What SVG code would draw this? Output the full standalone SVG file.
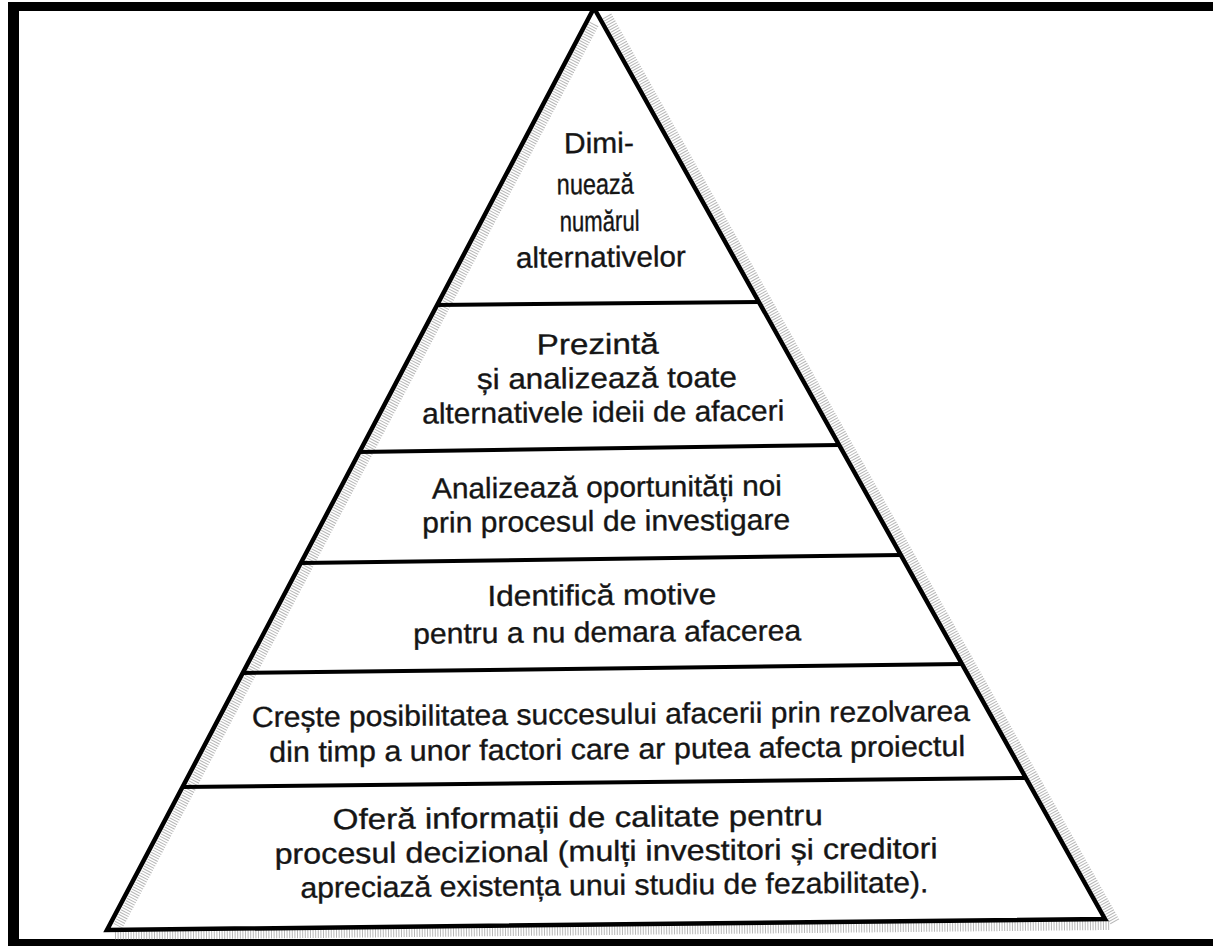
<svg xmlns="http://www.w3.org/2000/svg" width="1213" height="946" viewBox="0 0 1213 946">
<style>
.frame{fill:#000}
.edge{stroke:#000;stroke-width:4.5;fill:none;stroke-linecap:round;stroke-linejoin:miter}
.div{stroke:#000;stroke-width:4;fill:none}
.stip{stroke:#707070;stroke-width:10;fill:none;stroke-dasharray:1 1.6;opacity:0.5}
text{font-family:"Liberation Sans","Arial",sans-serif;font-size:29px;fill:#151515;text-anchor:middle;stroke:#151515;stroke-width:0.35}
</style>
<rect x="0" y="0" width="1213" height="946" fill="#fff"/>
<g id="frame">
<rect class="frame" x="8" y="2" width="1205" height="9"/>
<rect class="frame" x="8" y="2" width="11" height="944"/>
<rect class="frame" x="8" y="939" width="1205" height="7"/>
</g>
<g id="shading">
<line class="stip" x1="594" y1="24" x2="118" y2="926"/>
<line class="stip" x1="607" y1="16" x2="1115" y2="922"/>
<line class="stip" x1="115" y1="935" x2="1110" y2="925"/>
</g>
<g id="connectors">
<polygon class="edge" points="594,8 1105,919 107,930"/>
<line class="div" x1="437" y1="305" x2="759" y2="302"/>
<line class="div" x1="359.5" y1="452" x2="839" y2="445"/>
<line class="div" x1="301" y1="563" x2="901" y2="555"/>
<line class="div" x1="243" y1="673" x2="962" y2="664"/>
<line class="div" x1="182.5" y1="787" x2="1026" y2="778"/>
</g>
<g transform="rotate(-0.5 600 500)">
<g id="band1">
<text x="602" y="153" textLength="70" lengthAdjust="spacingAndGlyphs">Dimi-</text>
<text x="598" y="194" textLength="77" lengthAdjust="spacingAndGlyphs">nuează</text>
<text x="602" y="231" textLength="80" lengthAdjust="spacingAndGlyphs">numărul</text>
<text x="603" y="267" textLength="170" lengthAdjust="spacingAndGlyphs">alternativelor</text>
</g>
<g id="band2">
<text x="599" y="354" textLength="122" lengthAdjust="spacingAndGlyphs">Prezintă</text>
<text x="608" y="388" textLength="260" lengthAdjust="spacingAndGlyphs">și analizează toate</text>
<text x="604" y="422" textLength="362" lengthAdjust="spacingAndGlyphs">alternativele ideii de afaceri</text>
</g>
<g id="band3">
<text x="607" y="497" textLength="350" lengthAdjust="spacingAndGlyphs">Analizează oportunități noi</text>
<text x="606" y="531" textLength="368" lengthAdjust="spacingAndGlyphs">prin procesul de investigare</text>
</g>
<g id="band4">
<text x="601" y="605" textLength="229" lengthAdjust="spacingAndGlyphs">Identifică motive</text>
<text x="606" y="642" textLength="388" lengthAdjust="spacingAndGlyphs">pentru a nu demara afacerea</text>
</g>
<g id="band5">
<text x="609" y="724" textLength="718" lengthAdjust="spacingAndGlyphs">Crește posibilitatea succesului afacerii prin rezolvarea</text>
<text x="615" y="759" textLength="696" lengthAdjust="spacingAndGlyphs">din timp a unor factori care ar putea afecta proiectul</text>
</g>
<g id="band6">
<text x="575" y="827" textLength="490" lengthAdjust="spacingAndGlyphs">Oferă informații de calitate pentru</text>
<text x="603" y="861" textLength="663" lengthAdjust="spacingAndGlyphs">procesul decizional (mulți investitori și creditori</text>
<text x="611" y="895" textLength="628" lengthAdjust="spacingAndGlyphs">apreciază existența unui studiu de fezabilitate).</text>
</g>
</g>
</svg>
